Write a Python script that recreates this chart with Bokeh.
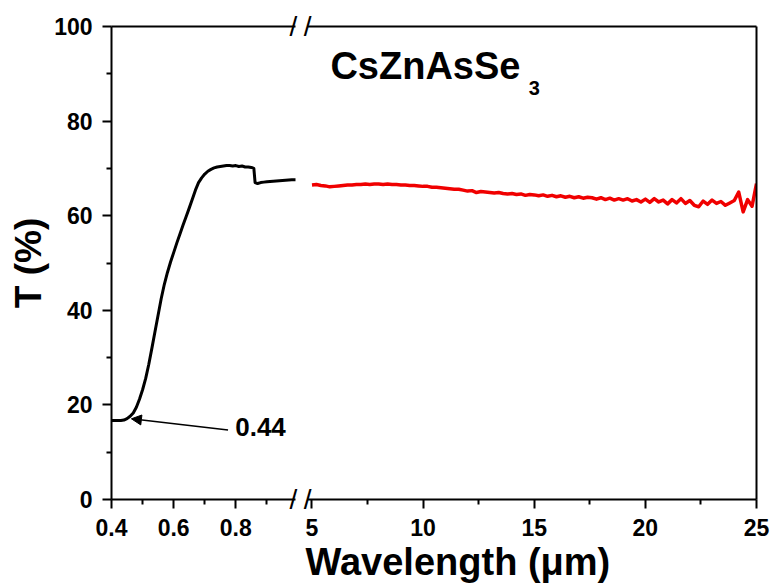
from bokeh.plotting import figure
from bokeh.models import (Range1d, LinearAxis, FixedTicker, Label, Arrow,
                          NormalHead, Title)
from bokeh.layouts import row
from bokeh.embed import file_html
from bokeh.resources import INLINE

# ---- data ----
vis_wl = [0.40, 0.41, 0.42, 0.43, 0.44, 0.45, 0.46, 0.47, 0.48, 0.49,
          0.50, 0.51, 0.52, 0.53, 0.54, 0.55, 0.56, 0.57, 0.58, 0.59,
          0.60, 0.61, 0.62, 0.63, 0.64, 0.65, 0.66, 0.67, 0.68, 0.69,
          0.70, 0.71, 0.72, 0.73, 0.74, 0.75, 0.76, 0.77, 0.78, 0.79,
          0.80, 0.81, 0.82, 0.83, 0.84, 0.85, 0.858, 0.862, 0.87, 0.88,
          0.89, 0.90, 0.92, 0.94, 0.96, 0.98, 1.00]
vis_t = [16.7, 16.7, 16.7, 16.7, 16.8, 17.1, 17.6, 18.3, 19.5, 21.2,
         23.2, 25.6, 28.6, 32.0, 35.5, 39.0, 42.5, 45.5, 48.0, 50.2,
         52.2, 54.2, 56.1, 58.0, 59.8, 61.6, 63.5, 65.4, 67.0, 68.0,
         68.8, 69.4, 69.8, 70.1, 70.3, 70.4, 70.5, 70.6, 70.6, 70.5,
         70.6, 70.4, 70.5, 70.3, 70.3, 70.2, 70.0, 67.0, 66.8, 67.0,
         67.1, 67.2, 67.3, 67.4, 67.5, 67.6, 67.6]

ir_wl = [round(5.0 + 0.2 * i, 1) for i in range(101)]
ir_t = [66.5, 66.6, 66.4, 66.3, 66.1, 66.2, 66.3, 66.4, 66.5, 66.5,
        66.6, 66.6, 66.7, 66.6, 66.7, 66.7, 66.6, 66.7, 66.6, 66.6,
        66.5, 66.5, 66.4, 66.4, 66.3, 66.2, 66.2, 66.0, 66.0, 65.9,
        65.8, 65.7, 65.6, 65.6, 65.4, 65.2, 65.3, 64.9, 65.1, 65.0,
        64.9, 64.8, 64.9, 64.7, 64.6, 64.7, 64.5, 64.6, 64.3, 64.5,
        64.4, 64.2, 64.4, 64.1, 64.3, 64.0, 64.2, 63.9, 64.1, 63.8,
        64.0, 63.7, 63.9, 63.8, 63.5, 63.8, 63.4, 63.7, 63.3, 63.6,
        63.3, 63.6, 63.1, 63.4, 62.9, 63.5, 62.8, 63.6, 62.9, 63.3,
        62.5, 63.4, 62.7, 63.6, 62.6, 63.2, 62.2, 61.9, 63.1, 62.4,
        63.3, 62.6, 63.0, 62.2, 62.7, 63.2, 65.0, 60.8, 63.4, 62.0,
        66.8]

y_ticks = [0, 20, 40, 60, 80, 100]
y_minor = [10, 30, 50, 70, 90]
left_ticks = [0.4, 0.6, 0.8]
left_minor = [0.5, 0.7, 0.9]
right_ticks = [5, 10, 15, 20, 25]
right_minor = [7.5, 12.5, 17.5, 22.5]
break_ticks = [0, 100]

FONT = "Liberation Sans"
LBL_SIZE = "23px"
H = 587
TOP, BOTTOM = 26, 499  # frame edges in canvas px

yr = Range1d(0, 100)


def style_axis(ax, ticks, minor, labels=None):
    ax.ticker = FixedTicker(ticks=ticks, minor_ticks=minor)
    ax.axis_line_width = 2
    ax.axis_line_color = "black"
    ax.major_tick_in = 0
    ax.major_tick_out = 9
    ax.minor_tick_in = 0
    ax.minor_tick_out = 5
    ax.major_tick_line_width = 2
    ax.minor_tick_line_width = 2
    ax.major_tick_line_color = "black"
    ax.minor_tick_line_color = "black"
    ax.major_label_text_font = FONT
    ax.major_label_text_font_size = LBL_SIZE
    ax.major_label_text_font_style = "bold"
    ax.major_label_text_color = "black"
    if labels:
        ax.major_label_overrides = labels


def plain_axis():
    return LinearAxis(ticker=FixedTicker(ticks=[]), axis_line_width=2,
                      axis_line_color="black", major_label_standoff=0,
                      major_tick_out=0, minor_tick_out=0)


def break_axis(standoff):
    # axis without line/ticks whose only labels are the "/" break marks
    return LinearAxis(ticker=FixedTicker(ticks=break_ticks, minor_ticks=[]),
                      major_label_overrides={0: "/", 100: "/"},
                      axis_line_color=None, major_tick_line_color=None,
                      minor_tick_line_color=None, major_tick_out=0,
                      minor_tick_out=0, major_tick_in=0, minor_tick_in=0,
                      major_label_standoff=standoff,
                      major_label_text_font=FONT,
                      major_label_text_font_size="28px",
                      major_label_text_color="black")


def make_fig(width, x_range, left, right):
    p = figure(width=width, height=H, x_range=x_range, y_range=yr,
               output_backend="svg", toolbar_location=None,
               x_axis_location=None, y_axis_location=None,
               min_border_left=left, min_border_right=right,
               min_border_top=TOP, min_border_bottom=H - BOTTOM,
               outline_line_color=None, background_fill_color="white",
               border_fill_color="white")
    p.grid.visible = False
    return p


# ---- left panel (visible) ----
p1 = make_fig(300, Range1d(0.4, 0.992), 111, 4)

xa1 = LinearAxis()
style_axis(xa1, left_ticks, left_minor, {0.4: "0.4", 0.6: "0.6", 0.8: "0.8"})
xa1.major_label_standoff = 10
p1.add_layout(xa1, "below")

ya1 = LinearAxis()
style_axis(ya1, y_ticks, y_minor)
ya1.major_label_standoff = 10
ya1.axis_label = "T (%)"
ya1.axis_label_text_font = FONT
ya1.axis_label_text_font_size = "37px"
ya1.axis_label_text_font_style = "bold"
ya1.axis_label_text_color = "black"
ya1.axis_label_standoff = 2
p1.add_layout(ya1, "left")

p1.add_layout(plain_axis(), "above")
p1.add_layout(break_axis(-6), "right")

p1.line(vis_wl, vis_t, line_color="black", line_width=3, line_join="round")

p1.add_layout(Arrow(end=NormalHead(size=10, fill_color="black", line_color="black"),
                    x_start=0.775, y_start=14.7, x_end=0.464, y_end=17.06,
                    line_width=1.5, line_color="black"))
p1.add_layout(Label(x=0.798, y=15.3, text="0.44", text_font=FONT,
                    text_font_size="26px", text_font_style="bold",
                    text_color="black", text_baseline="alphabetic"))

# ---- right panel (IR) ----
p2 = make_fig(474, Range1d(4.798, 25), 5, 18)

xa2 = LinearAxis()
style_axis(xa2, right_ticks, right_minor)
xa2.major_label_standoff = 10
p2.add_layout(xa2, "below")
p2.add_layout(Title(text="Wavelength (\u03bcm)", align="left", offset=-2,
                    standoff=0, text_font=FONT, text_font_size="38px",
                    text_font_style="bold", text_color="black"), "below")
p2.add_layout(plain_axis(), "above")
p2.add_layout(plain_axis(), "right")
p2.add_layout(break_axis(-4), "left")

p2.line(ir_wl, ir_t, line_color="#f00000", line_width=3.5, line_join="round")

p2.add_layout(Label(x=5.829, y=91.6, text="CsZnAsSe", text_font=FONT,
                    text_font_size="38px", text_font_style="bold",
                    text_color="black", text_baseline="alphabetic"))
p2.add_layout(Label(x=14.75, y=86.9, text="3", text_font=FONT,
                    text_font_size="20px", text_font_style="bold",
                    text_color="black", text_baseline="alphabetic"))

layout = row(p1, p2)
open("out.html", "w").write(file_html(layout, INLINE))
